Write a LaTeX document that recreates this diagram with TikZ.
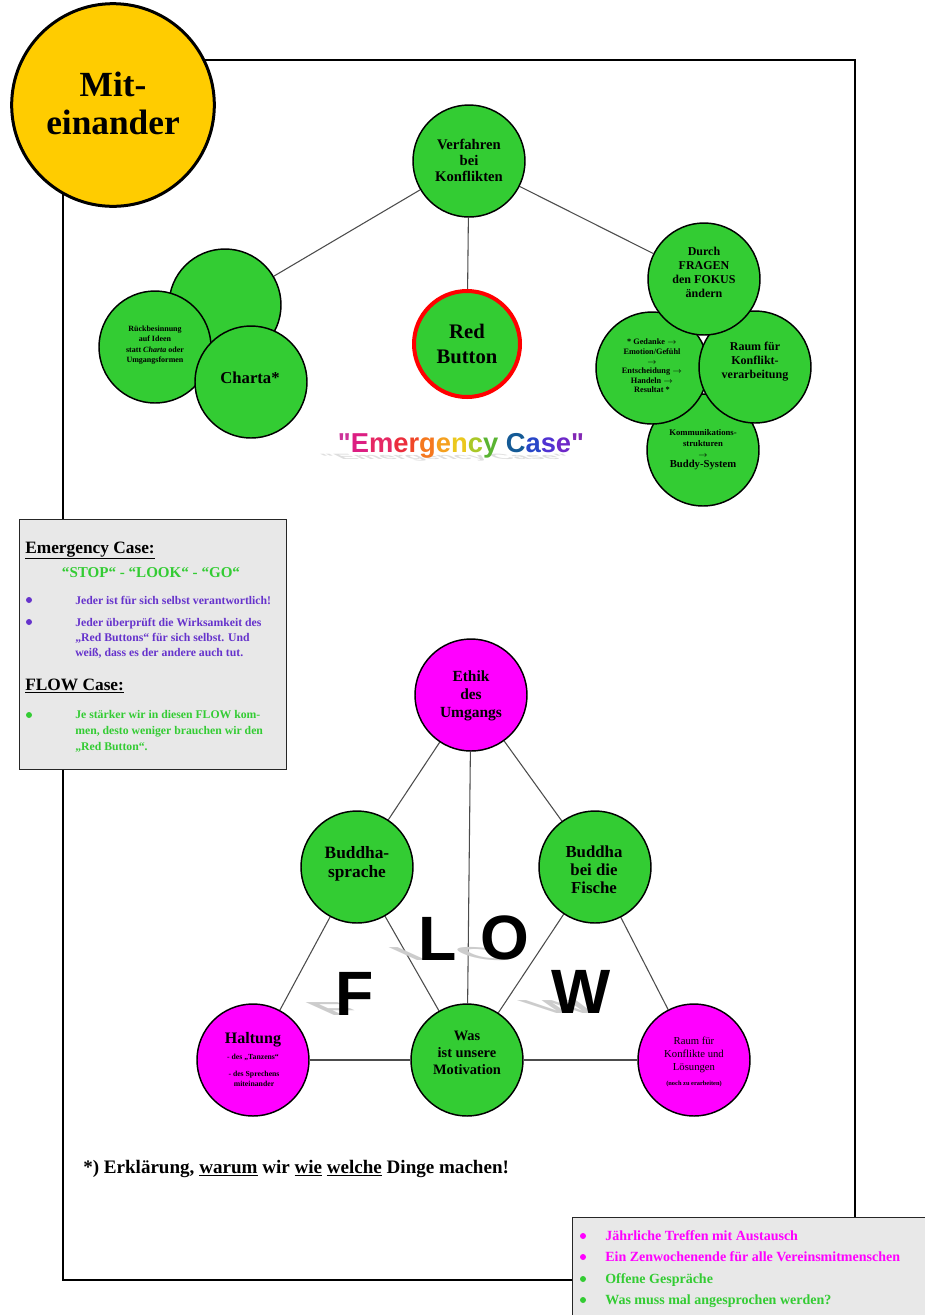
\documentclass[tikz,border=0pt]{standalone}
\usepackage{fontspec}
\setmainfont{Liberation Serif}
\newfontfamily\arialfont{Liberation Sans}
\usetikzlibrary{backgrounds}
\definecolor{cgreen}{RGB}{51,204,51}
\definecolor{cmag}{RGB}{255,0,255}
\definecolor{cyellow}{RGB}{255,204,0}
\definecolor{cpurple}{RGB}{102,51,204}
\definecolor{cpanel}{RGB}{232,232,232}
\newcommand\rbw[2]{\textcolor[RGB]{#1}{#2}}
\newcommand\fs[2]{\fontsize{#1}{#2}\selectfont}
\tikzset{
  ball/.style={circle, draw=black, line width=1.1pt, minimum size=84pt, inner sep=0pt, fill=cgreen},
  magball/.style={ball, fill=cmag},
  conn/.style={draw=black!70, line width=0.8pt},
  txt/.style={inner sep=0pt, align=center, font=\bfseries},
  lbl/.style={anchor=base west, inner sep=0pt},
  panel/.style={draw=black!85, line width=1.1pt, fill=cpanel, anchor=north west, inner sep=0pt},
  bigletter/.style={anchor=base, inner sep=0pt, font=\arialfont\bfseries\fs{47}{50}},
  shadowletter/.style={bigletter, transform shape, text=black!20}
}
\begin{document}
\begin{tikzpicture}[x=0.75pt,y=0.75pt]
\useasboundingbox (0,0) rectangle (925,-1315);
\begin{scope}[on background layer]
  \fill[white] (0,0) rectangle (925,-1315);
\end{scope}

% main frame
\draw[line width=0.9pt] (63,-60) rectangle (855,-1280);

% ---------- upper tree ----------
\node[ball] (verf) at (469,-161) {};
\node[ball] (back) at (225,-305) {};
\node[ball] (rueck) at (155,-347) {};
\node[ball] (charta) at (251,-382) {};
\node[ball, draw=red, line width=3pt, minimum size=79.5pt] (red) at (467,-344) {};
\node[ball] (komm) at (703,-450) {};
\node[ball] (ged) at (652,-368) {};
\node[ball] (raum) at (755,-367) {};
\node[ball] (durch) at (704,-279) {};

\node[txt, font=\bfseries\fs{11}{12}] (verf-t) at (469,-160) {Verfahren\\bei\\Konflikten};
\node[txt, font=\bfseries\fs{6}{7.9}] (rueck-t) at (155,-345) {Rückbesinnung\\auf Ideen\\statt \textit{Charta} oder\\Umgangsformen};
\node[txt, font=\bfseries\fs{12.5}{14}] (charta-t) at (250,-378) {Charta*};
\node[txt, font=\bfseries\fs{15.5}{18.75}] (red-t) at (467,-344) {Red\\Button};
\node[txt, font=\bfseries\fs{9}{10.5}] (durch-t) at (704,-272) {Durch\\FRAGEN\\den FOKUS\\ändern};
\node[txt, font=\bfseries\fs{6.2}{7.2}] (ged-t) at (652,-366) {* Gedanke $\rightarrow$\\Emotion/Gefühl\\$\rightarrow$\\Entscheidung $\rightarrow$\\Handeln $\rightarrow$\\Resultat *};
\node[txt, font=\bfseries\fs{9}{10.5}] (raum-t) at (755,-362) {Raum für\\Konflikt-\\verarbeitung};
\node[txt, font=\bfseries\fs{6.5}{8}] (komm-t) at (703,-450) {Kommunikations-\\strukturen\\$\rightarrow$\\{\fs{8}{9}Buddy-System}};

\begin{scope}[on background layer]
  \draw[conn] (verf) -- (back);
  \draw[conn] (verf) -- (red);
  \draw[conn] (verf) -- (durch);
\end{scope}

% Emergency Case
\begin{scope}[shift={(452,-459)}, xslant=-2, yscale=0.28]
  \node[transform shape, anchor=base, inner sep=0pt, text=black!13, font=\arialfont\bfseries\fs{20.5}{24}] (emc-s) at (0,0) {"Emergency Case"};
\end{scope}
\node[anchor=base, inner sep=0pt, font=\arialfont\bfseries\fs{20.5}{24}] (emc) at (461,-452) {\rbw{204,51,153}{"}\rbw{220,30,130}{E}\rbw{230,40,100}{m}\rbw{235,45,60}{e}\rbw{240,70,40}{r}\rbw{245,120,30}{g}\rbw{245,160,30}{e}\rbw{235,200,30}{n}\rbw{170,200,40}{c}\rbw{90,180,50}{y} \rbw{20,90,150}{C}\rbw{40,70,200}{a}\rbw{80,50,210}{s}\rbw{110,40,200}{e}\rbw{130,40,180}{"}};

% ---------- lower triangle ----------
\node[magball] (ethik) at (471,-695) {};
\node[ball] (bspr) at (357,-867) {};
\node[ball] (fische) at (595,-867) {};
\node[magball] (haltung) at (253,-1060) {};
\node[ball] (motiv) at (467,-1060) {};
\node[magball] (raumk) at (694,-1060) {};

\begin{scope}[on background layer]
  \draw[conn] (ethik) -- (bspr);
  \draw[conn] (ethik) -- (fische);
  \draw[conn] (ethik) -- (motiv);
  \draw[conn] (bspr) -- (haltung);
  \draw[conn] (bspr) -- (motiv);
  \draw[conn] (fische) -- (motiv);
  \draw[conn] (fische) -- (raumk);
  \draw[conn] (haltung) -- (motiv);
  \draw[conn] (motiv) -- (raumk);
\end{scope}

\node[txt, font=\bfseries\fs{11.6}{13.5}] (ethik-t) at (471,-696) {Ethik\\des\\Umgangs};
\node[txt, font=\bfseries\fs{13}{14.25}] (bspr-t) at (357,-864) {Buddha-\\sprache};
\node[txt, font=\bfseries\fs{12.6}{13.5}] (fische-t) at (594,-870) {Buddha\\bei die\\Fische};
\node[txt, font=\bfseries\fs{10.8}{13}] (motiv-t) at (467,-1053) {Was\\ist unsere\\Motivation};
\node[anchor=base, inner sep=0pt, font=\bfseries\fs{12}{14}] (haltung-t) at (253,-1043) {Haltung};
\node[anchor=base, inner sep=0pt, font=\bfseries\fs{5.8}{6}] (haltung-a) at (253,-1059) {- des „Tanzens“};
\node[anchor=base, inner sep=0pt, font=\bfseries\fs{5.8}{7.5}, align=center] (haltung-b) at (254,-1086) {- des Sprechens\\miteinander};
\node[anchor=base, inner sep=0pt, font=\fs{8}{9.75}, align=center] (raumk-t) at (694,-1070) {Raum für\\Konflikte und\\Lösungen};
\node[anchor=base, inner sep=0pt, font=\bfseries\fs{4.8}{5}] (raumk-s) at (694,-1085) {(noch zu erarbeiten)};

% FLOW letters with shadows
\begin{scope}[shift={(432,-960)}, xslant=-2.2, yscale=0.3]
  \node[shadowletter] (ls) at (0,0) {L};
\end{scope}
\begin{scope}[shift={(499,-960)}, xslant=-2.2, yscale=0.3]
  \node[shadowletter] (os) at (0,0) {O};
\end{scope}
\begin{scope}[shift={(349,-1015)}, xslant=-2.2, yscale=0.3]
  \node[shadowletter] (fs) at (0,0) {F};
\end{scope}
\begin{scope}[shift={(575,-1013)}, xslant=-2.2, yscale=0.3]
  \node[shadowletter] (ws) at (0,0) {W};
\end{scope}
\node[bigletter] (L) at (438,-960) {L};
\node[bigletter] (O) at (505,-959) {O};
\node[bigletter] (F) at (355,-1015) {F};
\node[bigletter] (W) at (581,-1013) {W};

% footnote
\node[lbl, font=\bfseries\fs{14.3}{16}] (foot) at (83,-1173) {*) Erklärung, \underline{warum} wir \underline{wie} \underline{welche} Dinge machen!};

% ---------- left panel ----------
\node[panel, minimum width=200.25pt, minimum height=187.5pt] (ebox) at (19,-519) {};
\node[lbl, font=\bfseries\fs{13}{14}] (e1) at (25,-553) {\underline{Emergency Case:}};
\node[anchor=base, inner sep=0pt, font=\bfseries\fs{11.3}{12}, text=cgreen] (e2) at (151,-577) {“STOP“ - “LOOK“ - “GO“};
\fill[cpurple] (29,-600) circle (3);
\fill[cpurple] (29,-622) circle (3);
\node[lbl, font=\bfseries\fs{8.8}{11}, text=cpurple] (e3) at (75,-604) {Jeder ist für sich selbst verantwortlich!};
\node[lbl, font=\bfseries\fs{8.8}{11}, text=cpurple] (e4) at (75,-626) {Jeder überprüft die Wirksamkeit des};
\node[lbl, font=\bfseries\fs{8.8}{11}, text=cpurple] (e5) at (75,-641) {„Red Buttons“ für sich selbst. Und};
\node[lbl, font=\bfseries\fs{8.8}{11}, text=cpurple] (e6) at (75,-656) {weiß, dass es der andere auch tut.};
\node[lbl, font=\bfseries\fs{13}{14}] (e7) at (25,-690) {\underline{FLOW Case:}};
\fill[cgreen] (29,-715) circle (3);
\node[lbl, font=\bfseries\fs{8.8}{11}, text=cgreen] (e8) at (75,-718) {Je stärker wir in diesen FLOW kom-};
\node[lbl, font=\bfseries\fs{8.8}{11}, text=cgreen] (e9) at (75,-734) {men, desto weniger brauchen wir den};
\node[lbl, font=\bfseries\fs{8.8}{11}, text=cgreen] (e10) at (75,-750) {„Red Button“.};

% ---------- bottom right panel ----------
\node[panel, minimum width=270pt, minimum height=78pt] (bbox) at (572,-1217) {};
\fill[cmag] (583,-1236) circle (3);
\fill[cmag] (583,-1257) circle (3);
\fill[cgreen] (583,-1279) circle (3);
\fill[cgreen] (583,-1300) circle (3);
\node[lbl, font=\bfseries\fs{10.5}{12}, text=cmag] (b1) at (605,-1240) {Jährliche Treffen mit Austausch};
\node[lbl, font=\bfseries\fs{10.5}{12}, text=cmag] (b2) at (605,-1261) {Ein Zenwochenende für alle Vereinsmitmenschen};
\node[lbl, font=\bfseries\fs{10.5}{12}, text=cgreen] (b3) at (605,-1283) {Offene Gespräche};
\node[lbl, font=\bfseries\fs{10.5}{12}, text=cgreen] (b4) at (605,-1304) {Was muss mal angesprochen werden?};

% ---------- yellow title circle ----------
\node[circle, draw=black, line width=2.25pt, fill=cyellow, minimum size=152pt, inner sep=0pt] (mit) at (113,-105) {};
\node[txt, font=\bfseries\fs{26.5}{28.5}] (mit-t) at (113,-103) {Mit-\\einander};
\end{tikzpicture}
\end{document}
